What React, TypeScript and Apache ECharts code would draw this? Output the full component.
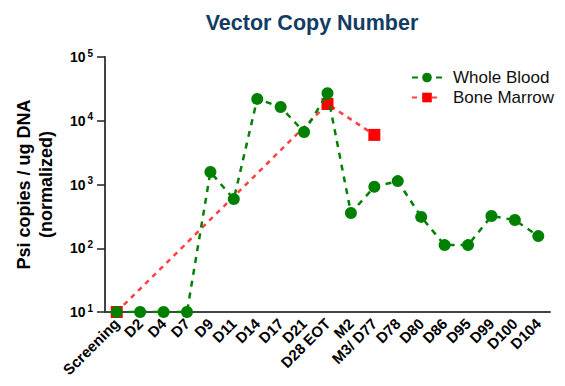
import React, { useEffect, useRef } from "react";
import * as echarts from "echarts";

const categories = ["Screening", "D2", "D4", "D7", "D9", "D11", "D14", "D17", "D21", "D28 EOT", "M2", "M3/ D77", "D78", "D80", "D86", "D95", "D99", "D100", "D104"];
const wholeBlood = [10, 10, 10, 10, 1570, 590, 22000, 16400, 6650, 27000, 357, 920, 1130, 310, 112, 112, 320, 277, 155];
const boneMarrow: (number | null)[] = [10, null, null, null, null, null, null, null, null, 18300, null, 6000, null, null, null, null, null, null, null];

export default function App() {
  const ref = useRef<HTMLDivElement>(null);
  useEffect(() => {
    const chart = echarts.init(ref.current!, null, { renderer: "svg" });
    chart.setOption({
      animation: false,
      title: {
        text: "Vector Copy Number",
        left: 307,
        textAlign: "center",
        top: 7,
        textStyle: { fontFamily: "Liberation Sans", fontWeight: "bold", fontSize: 21.5, color: "#123c62" },
      },
      legend: {
        left: 406,
        top: 64,
        orient: "vertical",
        itemGap: 3,
        itemWidth: 30,
        itemHeight: 12,
        textStyle: { fontFamily: "Liberation Sans", fontSize: 17, color: "#111", padding: [0, 0, 0, 6] },
        data: ["Whole Blood", "Bone Marrow"],
      },
      grid: { left: 105, right: 15, top: 57, bottom: 74 },
      xAxis: {
        type: "category",
        data: categories,
        boundaryGap: true,
        axisLine: { lineStyle: { color: "#444", width: 2 } },
        axisTick: { alignWithLabel: true, length: 8, lineStyle: { color: "#222", width: 1.5 } },
        axisLabel: {
          rotate: 45,
          interval: 0,
          margin: 9,
          fontFamily: "Liberation Sans",
          fontWeight: "bold",
          fontSize: 15,
          color: "#000",
        },
      },
      yAxis: {
        type: "log",
        logBase: 10,
        min: 10,
        max: 100000,
        name: "Psi copies / ug DNA\n(normalized)",
        nameLocation: "middle",
        nameGap: 48,
        nameTextStyle: { fontFamily: "Liberation Sans", fontWeight: "bold", fontSize: 18, color: "#000", lineHeight: 22 },
        axisLine: { show: true, lineStyle: { color: "#444", width: 2 } },
        axisTick: { show: true, length: 8, lineStyle: { color: "#222", width: 1.5 } },
        splitLine: { show: false },
        axisLabel: {
          margin: 12,
          formatter: (v: number) => `{b|10}{s|${Math.round(Math.log10(v))}}`,
          rich: {
            b: { fontFamily: "Liberation Sans", fontWeight: "bold", fontSize: 14, color: "#000" },
            s: { fontFamily: "Liberation Sans", fontWeight: "bold", fontSize: 10, color: "#000", verticalAlign: "bottom", padding: [0, 0, 8, 2] },
          },
        },
      },
      series: [
        {
          name: "Whole Blood",
          type: "line",
          data: wholeBlood,
          symbol: "circle",
          symbolSize: 12,
          itemStyle: { color: "#008000" },
          lineStyle: { color: "#008000", width: 2.5, type: [6, 6] },
          z: 3,
        },
        {
          name: "Bone Marrow",
          type: "line",
          data: boneMarrow,
          connectNulls: true,
          symbol: "rect",
          symbolSize: 12,
          itemStyle: { color: "#ff0000" },
          lineStyle: { color: "#ff4040", width: 2.5, type: [5, 5] },
          z: 2,
        },
      ],
    });
    return () => chart.dispose();
  }, []);
  return <div ref={ref} style={{ width: 565, height: 386, position: "absolute", left: 0, top: 0 }} />;
}
